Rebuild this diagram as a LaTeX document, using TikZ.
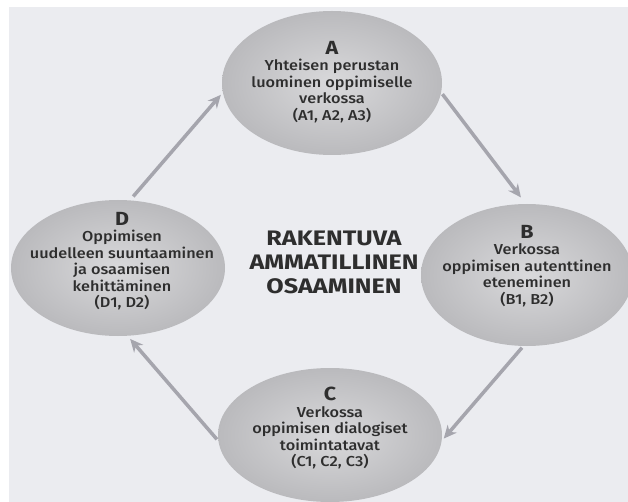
\documentclass[tikz,border=0pt]{standalone}
\usepackage{fontspec}
\setmainfont{Fira Sans Medium}[BoldFont={Fira Sans Bold}, FakeStretch=1.13]
\newfontfamily\titlefont{Fira Sans Bold}[FakeStretch=1.2]
\usetikzlibrary{arrows.meta,shapes.geometric}
\definecolor{pagebg}{HTML}{EBECF0}
\definecolor{bubin}{HTML}{D9D9DB}
\definecolor{bubout}{HTML}{BABABD}
\definecolor{arrowc}{HTML}{A5A5AD}
\definecolor{txtc}{HTML}{2E2E2E}
\begin{document}
\begin{tikzpicture}[x=1pt,y=-1pt,
  bub/.style={ellipse, inner sep=0pt, inner color=bubin, outer color=bubout},
  btext/.style={text=txtc, align=center, inner sep=0pt, font=\fontsize{14.4}{16.5}\selectfont},
  flow/.style={draw=arrowc, line width=3.5pt, -{Stealth[length=13pt,width=12pt]}},
  title/.style={font=\titlefont\fontsize{21}{24}\selectfont, text=txtc, align=center},
]
\useasboundingbox (0,0) rectangle (628,502);
\clip (0,0) rectangle (628,502);
\fill[white] (0,0) rectangle (628,502);
\fill[pagebg] (9,7) rectangle (628,502);

\node[bub, minimum width=220pt, minimum height=144pt] (A) at (332,83) {};
\node[bub, minimum width=212pt, minimum height=142pt] (B) at (527,275) {};
\node[bub, minimum width=224pt, minimum height=134pt] (C) at (330,435) {};
\node[bub, minimum width=214pt, minimum height=136pt] (D) at (118,268) {};

\node[btext] (At) at (332,82)
  {{\bfseries\fontsize{19}{21}\selectfont A}\\Yhteisen perustan\\luominen oppimiselle\\verkossa\\(A1, A2, A3)};
\node[btext] (Bt) at (527,266)
  {{\bfseries\fontsize{19}{21}\selectfont B}\\Verkossa\\oppimisen autenttinen\\eteneminen\\(B1, B2)};
\node[btext] (Ct) at (330,428)
  {{\bfseries\fontsize{19}{21}\selectfont C}\\Verkossa\\oppimisen dialogiset\\toimintatavat\\(C1, C2, C3)};
\node[btext] (Dt) at (122,261)
  {{\bfseries\fontsize{19}{21}\selectfont D}\\Oppimisen\\uudelleen suuntaaminen\\ja osaamisen\\kehittäminen\\(D1, D2)};

\node[title] (T) at (334,262) {RAKENTUVA\\AMMATILLINEN\\OSAAMINEN};

\draw[flow, shorten <=5pt, shorten >=3pt] (D.80) -- (A.185);
\draw[flow, shorten <=2pt, shorten >=8pt] (A.-5) -- (B.91);
\draw[flow, shorten <=2pt, shorten >=3pt] (B.-93) -- (C.-3);
\draw[flow, shorten <=2pt, shorten >=4pt] (C.183) -- (D.-82);
\end{tikzpicture}
\end{document}
